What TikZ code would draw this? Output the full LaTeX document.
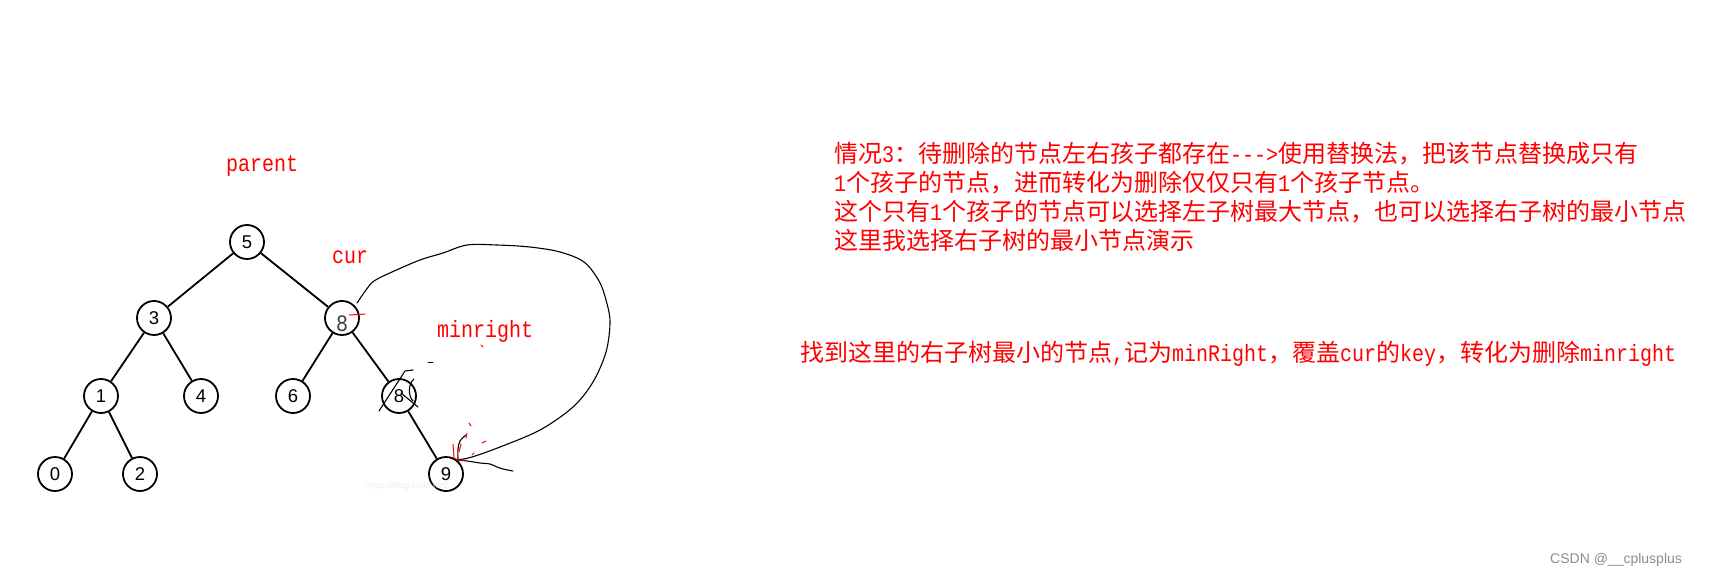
\documentclass[tikz,border=0pt]{standalone}
\usepackage{fontspec}
\usepackage{graphicx}
\setmainfont{Liberation Sans}
\newfontfamily\cjk{Noto Sans CJK SC}
\newfontfamily\mono{Liberation Mono}
\newcommand\latn[1]{\scalebox{1}[1.18]{\mono\fontsize{20}{29}\selectfont #1}}
\begin{document}
\begin{tikzpicture}[x=1pt,y=-1pt,
  tn/.style={circle, draw, line width=1.8pt, minimum size=34pt, inner sep=0pt, fill=white, font=\fontsize{18.5}{18.5}\selectfont},
  edge/.style={line width=1.8pt},
  lbl/.style={text=red, inner sep=0pt, anchor=base west},
  note/.style={text=red, inner sep=0pt, anchor=base west, font=\cjk\fontsize{24}{29}\selectfont},
  hand/.style={line width=1.1pt, line join=round, line cap=round},
  scrib/.style={red, line width=1pt, line cap=round}]
\useasboundingbox (0,0) rectangle (1715,575);
% tree nodes
\node[tn] (n5) at (247,242) {5};
\node[tn] (n3) at (154,318) {3};
\node[tn] (n8c) at (342,318) {};
\node[tn] (n1) at (101,396) {1};
\node[tn] (n4) at (201,396) {4};
\node[tn] (n6) at (293,396) {6};
\node[tn] (n8l) at (399,396) {8};
\node[tn] (n0) at (55,474) {0};
\node[tn] (n2) at (140,474) {2};
\node[tn] (n9) at (446,474) {9};
% edges
\draw[edge] (n5) -- (n3);
\draw[edge] (n5) -- (n8c);
\draw[edge] (n3) -- (n1);
\draw[edge] (n3) -- (n4);
\draw[edge] (n1) -- (n0);
\draw[edge] (n1) -- (n2);
\draw[edge] (n8c) -- (n6);
\draw[edge] (n8c) -- (n8l);
\draw[edge] (n8l) -- (n9);
% replaced key in cur
\node[inner sep=0pt, anchor=base west, text=black!75] (d8c) at (336,331) {\latn{8}};
\draw[scrib] (349,315) -- (365,314);
% labels
\node[lbl] (lparent) at (226,171) {\latn{parent}};
\node[lbl] (lcur) at (332,263) {\latn{cur}};
\node[lbl] (lmin) at (437,337) {\latn{minright}};
% hand drawn loop
\draw[hand] plot[smooth, tension=0.55] coordinates {(357,303) (366,290) (374,281) (392,272) (420,260) (443,253) (467,245) (497,245) (530,247) (560,252) (584,262) (599,281) (606,300) (610,322) (606,352) (593,382) (573,407) (540,430) (500,447) (472,457) (457,460)};
\draw[hand] plot[smooth, tension=0.5] coordinates {(457,460) (467,461) (480,463) (490,464) (497,467) (503,469) (513,471)};
\draw[hand] plot[smooth, tension=0.6] coordinates {(466,435) (460,441) (458,449) (458,459)};
% cross on the lower 8
\draw[hand] (379,411) -- (405,371) -- (413,370);
\draw[hand] (401,393) -- (418,407);
\draw[hand] (414,379) .. controls (408,384) and (408,396) .. (413,401);
% red scribbles near 9
\draw[scrib] (453,444) -- (454,458) -- (458,460) -- (466,460);
\draw[scrib] (469,423) -- (471,426);
\draw[scrib] (467,433) -- (466,438);
\draw[scrib] (461,444) -- (459,452);
\draw[scrib] (482,443) -- (486,441);
\draw[scrib] (472,455) -- (474,453);
\draw[scrib] (481,345) -- (483,347);
\draw[hand, line width=0.8pt] (428,362) -- (433,362);
% watermark
\node[inner sep=0pt, anchor=base west, text=black!7, font=\fontsize{9}{9}\selectfont] (wm) at (365,488) {https://blog.csdn.net/};
% notes
\node[note] (t1) at (834,162) {情况\latn{3}：待删除的节点左右孩子都存在\latn{-{}-{}->}使用替换法，把该节点替换成只有};
\node[note] (t2) at (834,191) {\latn{1}个孩子的节点，进而转化为删除仅仅只有\latn{1}个孩子节点。};
\node[note] (t3) at (834,220) {这个只有\latn{1}个孩子的节点可以选择左子树最大节点，也可以选择右子树的最小节点};
\node[note] (t4) at (834,249) {这里我选择右子树的最小节点演示};
\node[note] (t5) at (800,361) {找到这里的右子树最小的节点\latn{,}记为\latn{minRight}，覆盖\latn{cur}的\latn{key}，转化为删除\latn{minright}};
% credit
\node[inner sep=0pt, anchor=base west, text=black!45, font=\fontsize{14}{14}\selectfont] (csdn) at (1550,563) {CSDN @\_\_cplusplus};
\end{tikzpicture}
\end{document}
